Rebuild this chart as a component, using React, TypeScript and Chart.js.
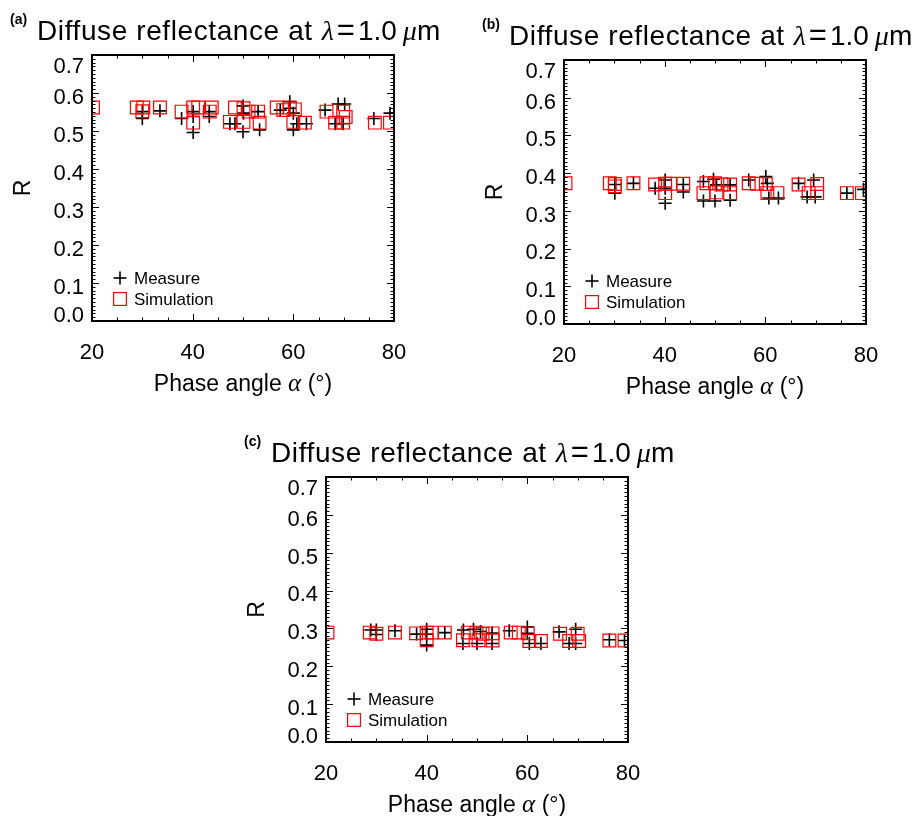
import React, { useEffect, useRef } from 'react';
import { Chart, registerables } from 'chart.js';

Chart.register(...registerables);

// ---------- data ----------
const xTickValues = [20, 40, 60, 80];
const yTickLabels = ['0.0', '0.1', '0.2', '0.3', '0.4', '0.5', '0.6', '0.7'];
const titleText = 'Diffuse reflectance at';
const xTitleText = 'Phase angle';
const yTitleText = 'R';
const legendLabels = ['Measure', 'Simulation'];

// Panel (a)
const measAX = [30.0, 30.0, 33.5, 37.8, 40.1, 40.1, 40.1, 43.3, 43.3, 47.4, 48.4, 50.0, 50.1, 50.0, 53.0, 53.3, 57.4, 59.3, 59.3, 60.0, 60.0, 60.7, 62.6, 66.3, 68.9, 70.2, 68.3, 69.9, 76.0, 79.2];
const measAY = [0.551, 0.533, 0.553, 0.533, 0.551, 0.538, 0.496, 0.551, 0.538, 0.519, 0.519, 0.566, 0.547, 0.498, 0.551, 0.503, 0.555, 0.577, 0.560, 0.547, 0.503, 0.519, 0.519, 0.555, 0.571, 0.571, 0.519, 0.519, 0.533, 0.547];
const simAX = [20.2, 28.9, 30.2, 30.0, 33.5, 37.8, 40.1, 40.1, 41.1, 43.4, 43.8, 47.4, 48.4, 50.1, 50.1, 51.1, 53.0, 53.3, 56.7, 58.0, 59.3, 60.3, 60.0, 62.3, 66.6, 68.3, 69.9, 69.9, 70.4, 76.2, 79.2];
const simAY = [0.562, 0.562, 0.562, 0.552, 0.562, 0.551, 0.562, 0.522, 0.562, 0.551, 0.562, 0.524, 0.562, 0.560, 0.524, 0.551, 0.551, 0.522, 0.562, 0.555, 0.562, 0.557, 0.524, 0.522, 0.551, 0.522, 0.551, 0.522, 0.537, 0.522, 0.522];

// Panel (b)
const measBX = [30.1, 30.1, 33.8, 38.1, 40.1, 40.1, 40.1, 43.7, 43.7, 47.7, 47.7, 49.7, 50.3, 50.0, 53.0, 53.0, 56.7, 60.1, 60.4, 60.7, 62.6, 66.6, 69.6, 68.3, 69.9, 76.2, 79.5];
const measBY = [0.370, 0.347, 0.373, 0.360, 0.382, 0.360, 0.320, 0.370, 0.350, 0.378, 0.326, 0.384, 0.369, 0.326, 0.369, 0.328, 0.382, 0.391, 0.373, 0.334, 0.334, 0.373, 0.382, 0.337, 0.337, 0.347, 0.357];
const simBX = [20.3, 29.1, 30.1, 30.1, 33.8, 38.1, 40.1, 40.1, 41.1, 43.7, 47.7, 48.3, 50.0, 50.3, 51.3, 53.0, 53.0, 56.7, 58.3, 60.1, 60.4, 62.4, 66.6, 68.6, 70.3, 70.3, 76.2, 79.2];
const simBY = [0.373, 0.373, 0.371, 0.365, 0.373, 0.370, 0.372, 0.347, 0.372, 0.372, 0.347, 0.373, 0.373, 0.349, 0.370, 0.370, 0.347, 0.373, 0.372, 0.371, 0.347, 0.347, 0.370, 0.347, 0.371, 0.347, 0.347, 0.347];

// Panel (c)
const measCX = [28.9, 30.0, 30.0, 33.7, 38.0, 40.0, 40.0, 40.0, 43.6, 47.3, 47.2, 49.3, 50.7, 50.0, 53.0, 53.0, 56.4, 60.0, 60.0, 60.4, 62.7, 66.3, 69.6, 68.3, 69.6, 76.3, 79.3];
const measCY = [0.296, 0.296, 0.284, 0.294, 0.285, 0.298, 0.285, 0.256, 0.289, 0.296, 0.260, 0.298, 0.292, 0.260, 0.288, 0.260, 0.294, 0.304, 0.287, 0.260, 0.260, 0.291, 0.298, 0.260, 0.260, 0.270, 0.268];
const simCX = [20.3, 28.7, 30.0, 33.7, 37.9, 40.0, 40.0, 41.0, 43.6, 47.2, 48.2, 49.9, 50.3, 51.1, 53.1, 53.1, 56.7, 58.3, 60.1, 60.4, 62.7, 66.5, 68.3, 70.0, 70.3, 76.3, 79.3];
const simCY = [0.289, 0.289, 0.286, 0.289, 0.287, 0.289, 0.269, 0.289, 0.289, 0.269, 0.289, 0.289, 0.269, 0.286, 0.287, 0.268, 0.289, 0.289, 0.287, 0.267, 0.267, 0.286, 0.267, 0.286, 0.267, 0.268, 0.268];

// ---------- layout ----------
const FONT = "'Liberation Sans', Arial, Helvetica, sans-serif";
const GREEK = "'Liberation Serif', 'DejaVu Serif', serif";
const X_SCALE_H = 50;

type Spec = {
  letter: string;
  canvas: { left: number; top: number; width: number; height: number };
  area: { l: number; t: number; r: number; b: number };
  measX: number[]; measY: number[]; simX: number[]; simY: number[];
};

const specs: Spec[] = [
  { letter: '(a)', canvas: { left: 0, top: 0, width: 460, height: 410 }, area: { l: 92, t: 55, r: 394, b: 321 }, measX: measAX, measY: measAY, simX: simAX, simY: simAY },
  { letter: '(b)', canvas: { left: 460, top: 0, width: 461, height: 410 }, area: { l: 564, t: 60, r: 866, b: 324 }, measX: measBX, measY: measBY, simX: simBX, simY: simBY },
  { letter: '(c)', canvas: { left: 230, top: 410, width: 460, height: 406 }, area: { l: 326, t: 477, r: 628, b: 742 }, measX: measCX, measY: measCY, simX: simCX, simY: simCY },
];

function makeFramePlugin(spec: Spec) {
  return {
    id: 'frame',
    afterDraw(chart: any) {
      const ctx: CanvasRenderingContext2D = chart.ctx;
      const { left, top, right, bottom } = chart.chartArea;
      const xs = chart.scales.x;
      const ys = chart.scales.y;
      const line = (x1: number, y1: number, x2: number, y2: number) => {
        ctx.beginPath(); ctx.moveTo(x1, y1); ctx.lineTo(x2, y2); ctx.stroke();
      };
      ctx.save();
      ctx.strokeStyle = '#000';
      ctx.fillStyle = '#000';
      // ticks
      ctx.lineWidth = 1;
      for (let v = 20; v <= 80; v += 5) {
        const px = Math.round(xs.getPixelForValue(v)) + 0.5;
        const L = v % 20 === 0 ? 7 : 3.5;
        line(px, bottom, px, bottom - L);
        line(px, top, px, top + L);
      }
      for (let i = 0; i <= 70; i++) {
        const py = Math.round(ys.getPixelForValue(i / 100)) + 0.5;
        const L = i % 10 === 0 ? 7 : 3.5;
        line(left, py, left + L, py);
        line(right, py, right - L, py);
      }
      // box
      ctx.lineWidth = 2;
      ctx.strokeRect(left, top, right - left, bottom - top);

      // y tick labels
      ctx.font = `22px ${FONT}`;
      ctx.textAlign = 'right';
      ctx.textBaseline = 'alphabetic';
      yTickLabels.forEach((lbl) => {
        const py = ys.getPixelForValue(parseFloat(lbl));
        const cy = Math.min(Math.max(py + 3, top + 10), bottom - 7);
        ctx.fillText(lbl, left - 8, cy + 0.36 * 22);
      });

      // legend
      const ds = chart.data.datasets;
      const lx = left + 28;
      const my = bottom - 43;
      const sy = bottom - 22;
      ctx.strokeStyle = ds[1].borderColor;
      ctx.lineWidth = 1.6;
      line(lx - 6.5, my, lx + 6.5, my);
      line(lx, my - 6.5, lx, my + 6.5);
      ctx.strokeStyle = ds[0].borderColor;
      ctx.lineWidth = 1.2;
      ctx.strokeRect(lx - 6.4, sy - 6.4, 12.8, 12.8);
      ctx.font = `17px ${FONT}`;
      ctx.textAlign = 'left';
      ctx.fillText(ds[1].label, left + 42, my + 6);
      ctx.fillText(ds[0].label, left + 42, sy + 6);

      // panel letter
      ctx.font = `bold 14px ${FONT}`;
      ctx.fillText(spec.letter, left - 82, top - 31);

      // title
      const by = top - 15;
      let x = left - 55;
      const normal = `28px ${FONT}`;
      const greek = `italic 28px ${GREEK}`;
      const seg = (t: string, font: string, gapAfter: number, spacing = '0px') => {
        ctx.font = font;
        (ctx as any).letterSpacing = spacing;
        ctx.fillText(t, x, by);
        x += ctx.measureText(t).width + gapAfter;
        (ctx as any).letterSpacing = '0px';
      };
      seg(titleText, normal, 9, '0.6px');
      seg('\u03BB', greek, 3);
      seg('=', `31px ${FONT}`, 3);
      seg('1.0', normal, 6);
      seg('\u03BC', greek, 0);
      seg('m', normal, 0);

      // x title
      const parts: [string, string][] = [
        [xTitleText + ' ', `23px ${FONT}`],
        ['\u03B1', `italic 25px ${GREEK}`],
        [' (\u00B0)', `23px ${FONT}`],
      ];
      let total = 0;
      parts.forEach(([t, f]) => { ctx.font = f; total += ctx.measureText(t).width; });
      let tx = (left + right) / 2 - total / 2;
      parts.forEach(([t, f]) => { ctx.font = f; ctx.fillText(t, tx, bottom + 70); tx += ctx.measureText(t).width; });

      // y title
      ctx.save();
      ctx.translate(left - 70, (top + bottom) / 2);
      ctx.rotate(-Math.PI / 2);
      ctx.font = `23px ${FONT}`;
      ctx.textAlign = 'center';
      ctx.fillText(yTitleText, 0, 8);
      ctx.restore();

      ctx.restore();
    },
  };
}

function Panel({ spec }: { spec: Spec }) {
  const ref = useRef<HTMLCanvasElement>(null);
  const c = spec.canvas;
  useEffect(() => {
    const a = spec.area;
    const pad = {
      left: a.l - c.left,
      top: a.t - c.top,
      right: c.left + c.width - a.r,
      bottom: c.top + c.height - a.b - X_SCALE_H,
    };
    const chart = new Chart(ref.current as HTMLCanvasElement, {
      type: 'scatter',
      data: {
        datasets: [
          {
            label: legendLabels[1],
            data: spec.simX.map((x, i) => ({ x, y: spec.simY[i] })),
            pointStyle: 'rect',
            pointRadius: 9,
            borderColor: '#ff0000',
            backgroundColor: 'rgba(0,0,0,0)',
            borderWidth: 1.2,
            clip: 0,
          } as any,
          {
            label: legendLabels[0],
            data: spec.measX.map((x, i) => ({ x, y: spec.measY[i] })),
            pointStyle: 'cross',
            pointRadius: 6.5,
            borderColor: '#000000',
            backgroundColor: '#000000',
            borderWidth: 1.6,
            clip: 0,
          } as any,
        ],
      },
      options: {
        animation: false,
        responsive: false,
        events: [],
        layout: { padding: pad },
        plugins: {
          legend: { display: false },
          tooltip: { enabled: false },
          title: { display: false },
        },
        scales: {
          x: {
            type: 'linear',
            min: 20,
            max: 80,
            afterFit: (s: any) => { s.height = X_SCALE_H; },
            afterBuildTicks: (s: any) => { s.ticks = xTickValues.map((v) => ({ value: v })); },
            grid: { display: false, drawTicks: false },
            border: { display: false },
            ticks: {
              padding: 19,
              color: '#000',
              font: { family: FONT, size: 22 },
              maxRotation: 0,
              autoSkip: false,
              callback: (v: any) => String(v),
            },
          },
          y: {
            type: 'linear',
            min: 0,
            max: 0.7,
            afterFit: (s: any) => { s.width = 0; },
            grid: { display: false, drawTicks: false },
            border: { display: false },
            ticks: { display: false, stepSize: 0.1 },
          },
        },
      } as any,
      plugins: [makeFramePlugin(spec)],
    });
    return () => chart.destroy();
  }, []);
  return (
    <canvas
      ref={ref}
      width={c.width}
      height={c.height}
      style={{ position: 'absolute', left: c.left, top: c.top, width: c.width, height: c.height }}
    />
  );
}

export default function App() {
  return (
    <div style={{ position: 'absolute', left: 0, top: 0, width: 921, height: 816, background: '#fff', overflow: 'hidden' }}>
      {specs.map((s) => (
        <Panel key={s.letter} spec={s} />
      ))}
    </div>
  );
}
